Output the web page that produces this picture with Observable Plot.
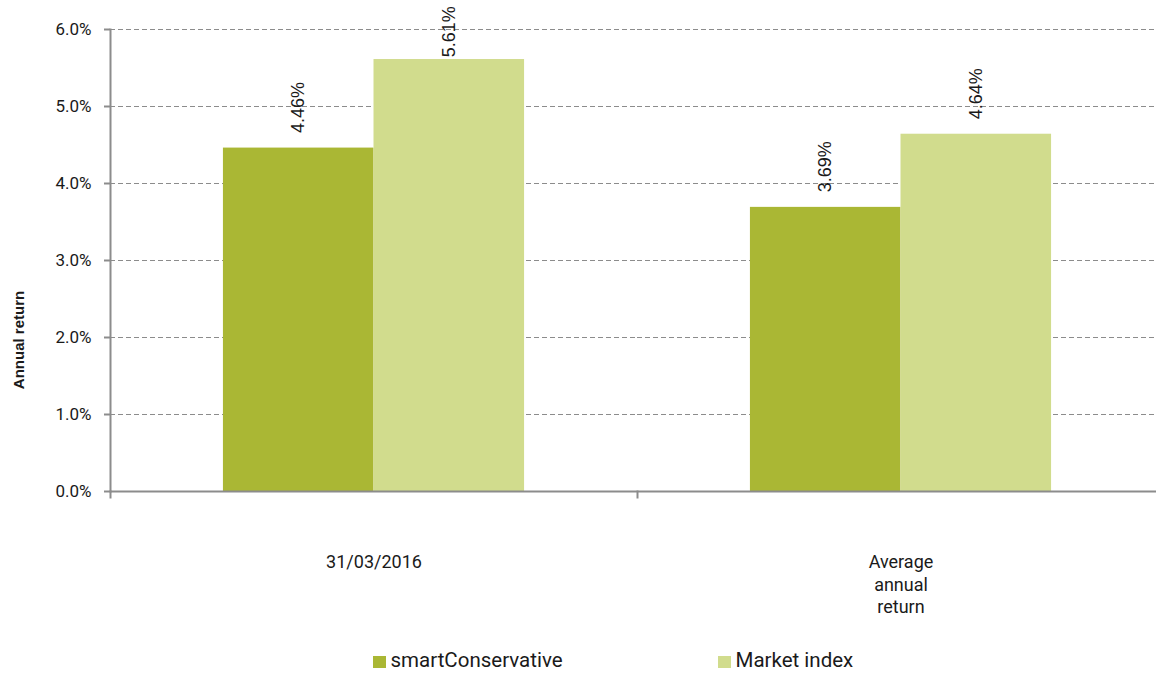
<!DOCTYPE html>
<html><head><meta charset="utf-8">
<script src="https://cdn.jsdelivr.net/npm/d3@7"></script>
<script src="https://cdn.jsdelivr.net/npm/@observablehq/plot@0.6"></script>
<style>
body{margin:0;background:#fff;}
#wrap{position:relative;width:1156px;height:673px;overflow:hidden;font-family:Roboto,sans-serif;color:#1a1a1a;}
#ytitle{position:absolute;left:18px;top:340px;transform:translate(-50%,-50%) rotate(-90deg);white-space:nowrap;font-family:"Liberation Sans",Arial,sans-serif;font-weight:bold;font-size:15px;line-height:15px;}
#legend{position:absolute;left:373px;top:651px;display:flex;font-size:20.5px;line-height:18px;}
.item{display:flex;align-items:center;width:345px;height:18px;}
.sw{width:12.5px;height:12.5px;margin-right:5px;margin-top:4px;}
</style>
</head><body>
<div id="wrap"><div id="chart"></div><div id="ytitle"></div><div id="legend"></div></div>
<script>
const categories = ["31/03/2016", "Average annual return"];
const categoryLabels = ["31/03/2016", "Average\nannual\nreturn"];
const series = ["smartConservative", "Market index"];
const smartConservative = [4.46, 3.69];
const marketIndex = [5.61, 4.64];
const yTicks = [0, 1, 2, 3, 4, 5, 6];
const colors = ["#AAB734", "#D1DC8D"];
const yTitle = "Annual return";

const rows = [];
categories.forEach((c, i) => {
  rows.push({category: c, series: series[0], value: smartConservative[i]});
  rows.push({category: c, series: series[1], value: marketIndex[i]});
});
const catRows = categories.map((c, i) => ({category: c, label: categoryLabels[i]}));
const axisColor = "#8c8c8c";

const chart = Plot.plot({
  width: 1156, height: 673,
  marginLeft: 110, marginRight: -8, marginTop: 29, marginBottom: 182,
  style: {fontFamily: "Roboto, sans-serif", fontSize: "17px", color: "#1a1a1a", background: "#fff"},
  fx: {domain: categories, padding: 0, axis: null, round: false},
  x: {domain: series, paddingInner: 0, paddingOuter: 0.75, axis: null, round: false},
  y: {domain: [0, 6], axis: null},
  color: {domain: series, range: colors},
  marks: [
    Plot.ruleY(yTicks.slice(1), {stroke: axisColor, strokeDasharray: "5,3", strokeWidth: 1}),
    Plot.barY(rows, {fx: "category", x: "series", y: "value", fill: "series"}),
    Plot.ruleY([0], {stroke: axisColor, strokeWidth: 2}),
    Plot.frame({anchor: "left", facetAnchor: "left", stroke: axisColor, strokeWidth: 2}),
    Plot.frame({anchor: "left", insetTop: 462, insetBottom: -6, stroke: axisColor, strokeWidth: 2}),
    Plot.axisY(yTicks, {label: null, tickSize: 6, tickPadding: 13, tickFormat: d => d.toFixed(1) + "%", stroke: axisColor, strokeWidth: 2, fill: "#1a1a1a", fontSize: 17}),
    Plot.text(rows, {fx: "category", x: "series", y: d => Math.min(d.value + 0.195, 5.64), text: d => d.value.toFixed(2) + "%", rotate: -90, textAnchor: "start", lineAnchor: "middle", fontSize: 18, fontFamily: "Liberation Sans, Arial, sans-serif", fill: "#1a1a1a"}),
    Plot.text(catRows, {fx: "category", text: "label", frameAnchor: "bottom", lineAnchor: "top", dy: 61, fontSize: 18, lineHeight: 1.25, fill: "#1a1a1a"})
  ]
});
document.getElementById("chart").appendChild(chart);
document.getElementById("ytitle").textContent = yTitle;
const lg = document.getElementById("legend");
series.forEach((s, i) => {
  const it = document.createElement("div"); it.className = "item";
  const sw = document.createElement("div"); sw.className = "sw"; sw.style.background = colors[i];
  const t = document.createElement("span"); t.textContent = s;
  it.appendChild(sw); it.appendChild(t); lg.appendChild(it);
});
</script>
</body></html>
